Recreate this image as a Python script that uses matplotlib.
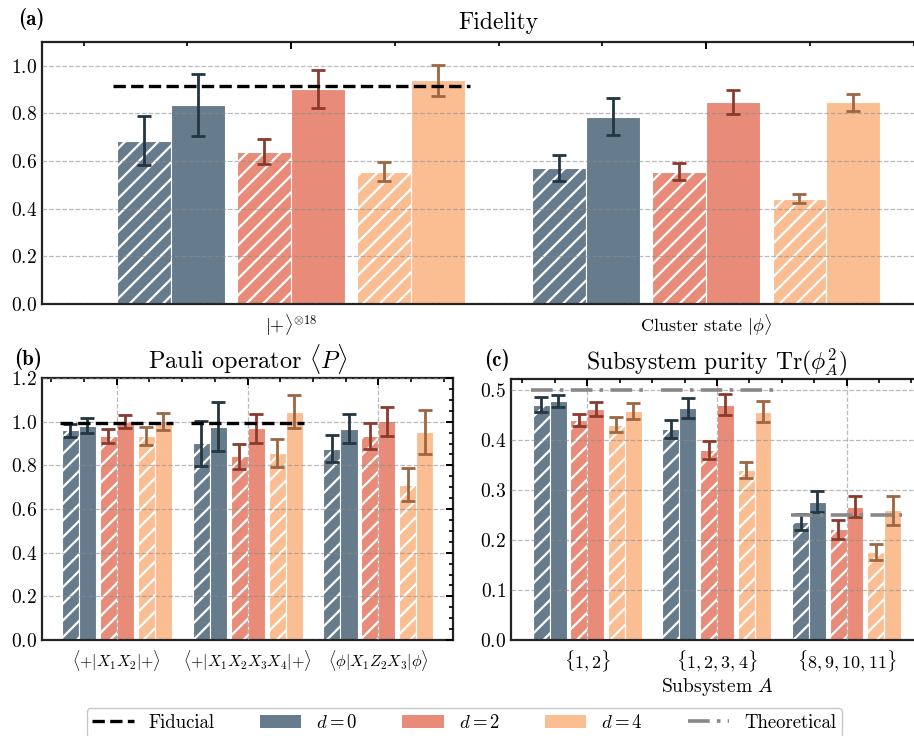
import numpy as np
import matplotlib
matplotlib.use("Agg")
import matplotlib.pyplot as plt
from matplotlib.patches import Patch
from matplotlib.lines import Line2D
from matplotlib.ticker import MultipleLocator

plt.rcParams.update({
    "font.family": "serif",
    "font.serif": ["cmr10", "DejaVu Serif"],
    "mathtext.fontset": "cm",
    "axes.formatter.use_mathtext": True,
    "hatch.linewidth": 1.6,
    "axes.linewidth": 1.6,
    "axes.edgecolor": "#222222",
})

# ---------------- data ----------------
d_labels = [r"$d=0$", r"$d=2$", r"$d=4$"]

fid_cats = [r"$|{+}\rangle^{\otimes 18}$", r"Cluster state $|\phi\rangle$"]
fid_hatched = [[0.685, 0.570], [0.640, 0.556], [0.556, 0.441]]
fid_hatched_err = [[0.103, 0.055], [0.053, 0.035], [0.039, 0.019]]
fid_solid = [[0.837, 0.786], [0.902, 0.849], [0.940, 0.846]]
fid_solid_err = [[0.130, 0.077], [0.081, 0.051], [0.065, 0.035]]
fid_fiducial = [0.913]

pauli_cats = [r"$\langle {+} | X_1 X_2 | {+} \rangle$",
              r"$\langle {+} | X_1 X_2 X_3 X_4 | {+} \rangle$",
              r"$\langle \phi | X_1 Z_2 X_3 | \phi \rangle$"]
pauli_hatched = [[0.960, 0.902, 0.876], [0.934, 0.841, 0.934], [0.935, 0.855, 0.711]]
pauli_hatched_err = [[0.031, 0.103, 0.062], [0.032, 0.057, 0.059], [0.040, 0.064, 0.075]]
pauli_solid = [[0.982, 0.977, 0.968], [1.000, 0.969, 1.002], [1.000, 1.046, 0.953]]
pauli_solid_err = [[0.035, 0.113, 0.066], [0.031, 0.067, 0.066], [0.038, 0.075, 0.100]]
pauli_fiducial = [0.992, 0.992]

pur_cats = [r"$\{1, 2\}$", r"$\{1, 2, 3, 4\}$", r"$\{8, 9, 10, 11\}$"]
pur_hatched = [[0.471, 0.422, 0.237], [0.440, 0.380, 0.222], [0.431, 0.340, 0.176]]
pur_hatched_err = [[0.015, 0.018, 0.016], [0.012, 0.018, 0.019], [0.015, 0.016, 0.016]]
pur_solid = [[0.478, 0.465, 0.277], [0.463, 0.471, 0.267], [0.459, 0.457, 0.260]]
pur_solid_err = [[0.012, 0.020, 0.021], [0.014, 0.021, 0.021], [0.016, 0.021, 0.029]]
pur_theory = [0.5, 0.5, 0.25]

# ---------------- style ----------------
bar_colors = ["#667b8b", "#e88b78", "#fbbe93"]
err_colors = ["#243642", "#8a3b2d", "#9c6742"]
group_off = [-0.29, 0.0, 0.29]
pair_off = 0.065
bar_w = 0.13
half_line = 0.43
grid_kw = dict(linestyle="--", color="#8c8c8c", linewidth=0.9, alpha=0.6, zorder=3)


def draw_panel(ax, cats, hatched, hatched_err, solid, solid_err):
    x = np.arange(len(cats))
    for i in range(3):
        xh = x + group_off[i] - pair_off
        xs = x + group_off[i] + pair_off
        ax.bar(xh, hatched[i], bar_w, color=bar_colors[i], edgecolor="white",
               linewidth=0.8, hatch="//", zorder=2)
        ax.bar(xs, solid[i], bar_w, color=bar_colors[i], edgecolor="white",
               linewidth=0.8, zorder=2)
        ax.errorbar(xh, hatched[i], yerr=hatched_err[i], fmt="none",
                    ecolor=err_colors[i], elinewidth=2.0, capsize=5, capthick=2.0, zorder=4)
        ax.errorbar(xs, solid[i], yerr=solid_err[i], fmt="none",
                    ecolor=err_colors[i], elinewidth=2.0, capsize=5, capthick=2.0, zorder=4)
    ax.set_xticks(x)
    ax.set_xticklabels(cats)
    ax.xaxis.set_minor_locator(MultipleLocator(0.25))
    ax.tick_params(axis="both", which="both", direction="in", labelsize=14,
                   top=True, right=True, left=False, bottom=False)
    ax.tick_params(axis="x", which="major", length=5, width=1.4, pad=6, labelsize=13)
    ax.tick_params(axis="x", which="minor", length=3, width=1.2)
    ax.tick_params(axis="y", which="major", length=5, width=1.4)
    ax.tick_params(axis="y", which="minor", length=3, width=1.2)
    ax.grid(True, axis="y", **grid_kw)
    ax.set_axisbelow(False)
    return x


fig = plt.figure(figsize=(9.14, 7.36), dpi=100)

# (a) Fidelity
axa = fig.add_axes([0.046, 0.587, 0.999, 0.356])
xa = draw_panel(axa, fid_cats, fid_hatched, fid_hatched_err, fid_solid, fid_solid_err)
for j, v in enumerate(fid_fiducial):
    axa.plot([xa[j] - half_line, xa[j] + half_line], [v, v], color="black",
             linestyle="--", linewidth=2.4, zorder=5)
axa.set_xlim(-0.6, 1.6)
axa.set_ylim(0, 1.1)
axa.yaxis.set_major_locator(MultipleLocator(0.2))
axa.tick_params(axis="y", which="both", right=False)
axa.set_title("Fidelity", fontsize=17, pad=9)
axa.text(-0.026, 1.045, "(a)", transform=axa.transAxes, fontsize=15,
         family="cmb10", ha="left", va="bottom")

# (b) Pauli
axb = fig.add_axes([0.046, 0.1304, 0.4497, 0.356])
xb = draw_panel(axb, pauli_cats, pauli_hatched, pauli_hatched_err, pauli_solid, pauli_solid_err)
for j, v in enumerate(pauli_fiducial):
    axb.plot([xb[j] - half_line, xb[j] + half_line], [v, v], color="black",
             linestyle="--", linewidth=2.4, zorder=5)
axb.set_xlim(-0.57, 2.57)
axb.set_ylim(0, 1.2)
axb.yaxis.set_major_locator(MultipleLocator(0.2))
axb.yaxis.set_minor_locator(MultipleLocator(0.05))
axb.tick_params(axis="x", labelsize=11.5)
axb.grid(True, axis="x", **grid_kw)
axb.set_title(r"Pauli operator $\langle P \rangle$", fontsize=17.5, pad=7)
axb.text(-0.068, 1.03, "(b)", transform=axb.transAxes, fontsize=15,
         family="cmb10", ha="left", va="bottom")

# (c) Purity
axc = fig.add_axes([0.5588, 0.1304, 0.4512, 0.3546])
xc = draw_panel(axc, pur_cats, pur_hatched, pur_hatched_err, pur_solid, pur_solid_err)
for j, v in enumerate(pur_theory):
    axc.plot([xc[j] - half_line, xc[j] + half_line], [v, v], color="#888888",
             linestyle=(0, (6, 2, 1, 2)), linewidth=2.6, zorder=5)
axc.set_xlim(-0.59, 2.59)
axc.set_ylim(0, 0.522)
axc.yaxis.set_major_locator(MultipleLocator(0.1))
axc.grid(True, axis="x", **grid_kw)
axc.set_xlabel(r"Subsystem $A$", fontsize=14, labelpad=2)
axc.set_title(r"Subsystem purity $\mathrm{Tr}(\phi_A^2)$", fontsize=17, pad=7)
axc.text(-0.065, 1.03, "(c)", transform=axc.transAxes, fontsize=15,
         family="cmb10", ha="left", va="bottom")

# legend
handles = [Line2D([0], [0], color="black", linestyle="--", linewidth=2.4),
           Patch(facecolor=bar_colors[0]), Patch(facecolor=bar_colors[1]),
           Patch(facecolor=bar_colors[2]),
           Line2D([0], [0], color="#888888", linestyle=(0, (6, 2, 1, 2)), linewidth=2.6)]
labels = ["Fiducial"] + d_labels + ["Theoretical"]
fig.legend(handles, labels, loc="center", bbox_to_anchor=(0.508, 0.018), ncol=5,
           fontsize=13.5, frameon=True, fancybox=True, edgecolor="#bbbbbb",
           handlelength=2.2, columnspacing=2.4, borderpad=0.3, handletextpad=0.8)

fig.savefig("out.png", dpi=100)
